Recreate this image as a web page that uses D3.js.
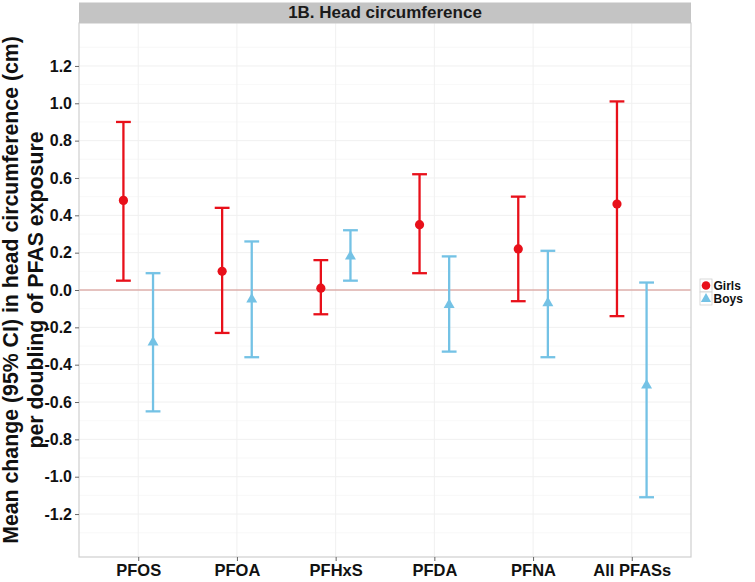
<!DOCTYPE html>
<html>
<head>
<meta charset="utf-8">
<script src="https://cdn.jsdelivr.net/npm/d3@7"></script>
<style>
  html, body { margin: 0; padding: 0; background: #ffffff; }
  svg { display: block; font-family: "Liberation Sans", Arial, Helvetica, sans-serif; }
</style>
</head>
<body>
<svg id="chart" width="755" height="582"></svg>
<script>
// ---- data ----
const categories = ["PFOS", "PFOA", "PFHxS", "PFDA", "PFNA", "All PFASs"];
const girlsEst = [0.48, 0.10, 0.01, 0.35, 0.22, 0.46];
const girlsLo  = [0.05, -0.23, -0.13, 0.09, -0.06, -0.14];
const girlsHi  = [0.90, 0.44, 0.16, 0.62, 0.50, 1.01];
const boysEst  = [-0.28, -0.05, 0.18, -0.08, -0.07, -0.51];
const boysLo   = [-0.65, -0.36, 0.05, -0.33, -0.36, -1.11];
const boysHi   = [0.09, 0.26, 0.32, 0.18, 0.21, 0.04];
const yTicks = [-1.2, -1.0, -0.8, -0.6, -0.4, -0.2, 0.0, 0.2, 0.4, 0.6, 0.8, 1.0, 1.2];
const yTickLabels = ["-1.2", "-1.0", "-0.8", "-0.6", "-0.4", "-0.2", "0.0", "0.2", "0.4", "0.6", "0.8", "1.0", "1.2"];
const yMinor = [-1.3, -1.1, -0.9, -0.7, -0.5, -0.3, -0.1, 0.1, 0.3, 0.5, 0.7, 0.9, 1.1, 1.3];
const seriesNames = ["Girls", "Boys"];
const titleText = "1B. Head circumference";
const yTitleLines = ["Mean change (95% CI) in head circumference (cm)", "per doubling of PFAS exposure"];

(function () {
// ---- layout ----
const svg = d3.select("#chart");
const pLeft = 79, pRight = 691, pTop = 23, pBottom = 557;
const stripTop = 2.5;
const colors = { Girls: "#e8101a", Boys: "#74c2e5" };

const x = d3.scalePoint().domain(categories).range([pLeft, pRight]).padding(0.6);
const step = x.step();
const dodge = 0.15 * step;
const capHalf = 0.075 * step;
const y = d3.scaleLinear().domain([-1.43, 1.43]).range([pBottom, pTop]);

const series = [
  { name: "Girls", est: girlsEst, lo: girlsLo, hi: girlsHi, off: -dodge },
  { name: "Boys", est: boysEst, lo: boysLo, hi: boysHi, off: dodge }
];

svg.append("rect").attr("x", pLeft).attr("y", pTop).attr("width", pRight - pLeft).attr("height", pBottom - pTop)
  .attr("fill", "#ffffff");

// grid
const g = svg.append("g");
g.selectAll("line.minor").data(yMinor).join("line")
  .attr("x1", pLeft).attr("x2", pRight).attr("y1", d => y(d)).attr("y2", d => y(d))
  .attr("stroke", "#f6f6f6").attr("stroke-width", 0.8);
g.selectAll("line.major").data(yTicks).join("line")
  .attr("x1", pLeft).attr("x2", pRight).attr("y1", d => y(d)).attr("y2", d => y(d))
  .attr("stroke", "#f0f0f0").attr("stroke-width", 1);
g.selectAll("line.vmajor").data(categories).join("line")
  .attr("x1", d => x(d)).attr("x2", d => x(d)).attr("y1", pTop).attr("y2", pBottom)
  .attr("stroke", "#f0f0f0").attr("stroke-width", 1);

// zero line
svg.append("line").attr("x1", pLeft).attr("x2", pRight).attr("y1", y(0)).attr("y2", y(0))
  .attr("stroke", "#d48e88").attr("stroke-width", 1.1);

// error bars and points
series.forEach(s => {
  const sg = svg.append("g").attr("stroke", colors[s.name]).attr("fill", colors[s.name]);
  categories.forEach((c, i) => {
    const cx = x(c) + s.off;
    sg.append("line").attr("x1", cx).attr("x2", cx).attr("y1", y(s.lo[i])).attr("y2", y(s.hi[i]))
      .attr("stroke-width", 2.3);
    [s.lo[i], s.hi[i]].forEach(v => {
      sg.append("line").attr("x1", cx - capHalf).attr("x2", cx + capHalf).attr("y1", y(v)).attr("y2", y(v))
        .attr("stroke-width", 2.3);
    });
    if (s.name === "Girls") {
      sg.append("circle").attr("cx", cx).attr("cy", y(s.est[i])).attr("r", 4.6).attr("stroke", "none");
    } else {
      sg.append("path").attr("d", d3.symbol(d3.symbolTriangle, 52)())
        .attr("transform", `translate(${cx},${y(s.est[i])})`).attr("stroke", "none");
    }
  });
});

// panel border
svg.append("rect").attr("x", pLeft).attr("y", pTop).attr("width", pRight - pLeft).attr("height", pBottom - pTop)
  .attr("fill", "none").attr("stroke", "#cfcfcf").attr("stroke-width", 1.2);

// strip
svg.append("rect").attr("x", pLeft).attr("y", stripTop).attr("width", pRight - pLeft).attr("height", pTop - stripTop)
  .attr("fill", "#c4c4c4");
svg.append("text").attr("x", (pLeft + pRight) / 2).attr("y", pTop - 5).attr("text-anchor", "middle")
  .attr("font-size", 17).attr("font-weight", "bold").attr("fill", "#1a1a1a").text(titleText);

// y axis
const yAxis = d3.axisLeft(y).tickValues(yTicks).tickSize(4).tickPadding(3)
  .tickFormat((d, i) => yTickLabels[i]);
const ya = svg.append("g").attr("transform", `translate(${pLeft},0)`).call(yAxis);
ya.select(".domain").remove();
ya.selectAll(".tick line").attr("stroke", "#666666");
ya.selectAll(".tick text").attr("font-size", 16).attr("font-weight", "bold").attr("fill", "#111111")
  .attr("font-family", "'Liberation Sans', Arial, sans-serif");

// x axis
const xAxis = d3.axisBottom(x).tickSize(4).tickPadding(3);
const xa = svg.append("g").attr("transform", `translate(0,${pBottom})`).call(xAxis);
xa.select(".domain").remove();
xa.selectAll(".tick line").attr("stroke", "#666666");
xa.selectAll(".tick text").attr("font-size", 16.5).attr("font-weight", "bold").attr("fill", "#111111")
  .attr("font-family", "'Liberation Sans', Arial, sans-serif");

// y title
const yt = svg.append("text").attr("transform", `translate(0,${(pTop + pBottom) / 2}) rotate(-90)`)
  .attr("text-anchor", "middle").attr("font-size", 21.3).attr("font-weight", "bold").attr("fill", "#111111");
yt.selectAll("tspan").data(yTitleLines).join("tspan")
  .attr("x", 0).attr("y", (d, i) => 18 + i * 24.5).text(d => d);

// legend
const lg = svg.append("g").attr("transform", "translate(700,279)");
seriesNames.forEach((name, i) => {
  const row = lg.append("g").attr("transform", `translate(0,${i * 13})`);
  row.append("rect").attr("x", 0).attr("y", 0).attr("width", 12).attr("height", 13)
    .attr("fill", "#ffffff").attr("stroke", "#d0d0d0").attr("stroke-width", 0.8);
  if (name === "Girls") {
    row.append("circle").attr("cx", 6).attr("cy", 6.5).attr("r", 4.3).attr("fill", colors[name]);
  } else {
    row.append("path").attr("d", d3.symbol(d3.symbolTriangle, 45)())
      .attr("transform", "translate(6,7)").attr("fill", colors[name]);
  }
  row.append("text").attr("x", 13.5).attr("y", 11).attr("font-size", 12).attr("font-weight", "bold")
    .attr("fill", "#111111").text(name);
});
})();
</script>
</body>
</html>
